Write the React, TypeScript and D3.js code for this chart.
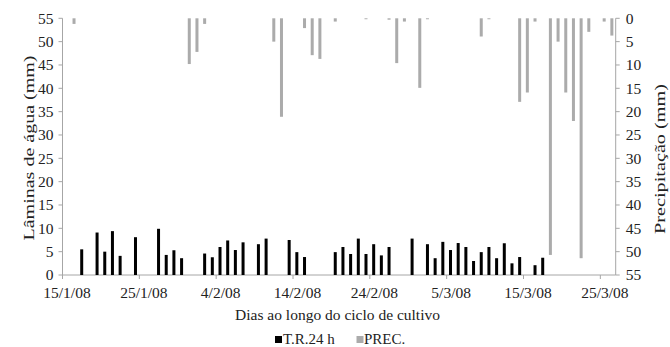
import React from "react";
import * as d3 from "d3";

const trDates = ["2008-01-17","2008-01-19","2008-01-20","2008-01-21","2008-01-22","2008-01-24","2008-01-27","2008-01-28","2008-01-29","2008-01-30","2008-02-02","2008-02-03","2008-02-04","2008-02-05","2008-02-06","2008-02-07","2008-02-09","2008-02-10","2008-02-13","2008-02-14","2008-02-15","2008-02-19","2008-02-20","2008-02-21","2008-02-22","2008-02-23","2008-02-24","2008-02-25","2008-02-26","2008-02-29","2008-03-02","2008-03-03","2008-03-04","2008-03-05","2008-03-06","2008-03-07","2008-03-08","2008-03-09","2008-03-10","2008-03-11","2008-03-12","2008-03-13","2008-03-14","2008-03-16","2008-03-17"];
const trValues = [5.5,9.1,5.0,9.4,4.1,8.1,9.9,4.3,5.3,3.6,4.6,3.8,6.0,7.4,5.35,7.0,6.6,7.8,7.5,4.9,3.85,4.9,6.0,4.5,7.8,4.5,6.6,4.2,6.0,7.8,6.6,3.6,7.1,5.35,6.85,6.0,3.0,4.9,6.0,3.6,6.8,2.5,3.85,2.1,3.7];

const precDates = ["2008-01-16","2008-01-31","2008-02-01","2008-02-02","2008-02-11","2008-02-12","2008-02-15","2008-02-16","2008-02-17","2008-02-19","2008-02-23","2008-02-26","2008-02-27","2008-02-28","2008-03-01","2008-03-02","2008-03-09","2008-03-10","2008-03-14","2008-03-15","2008-03-16","2008-03-18","2008-03-19","2008-03-20","2008-03-21","2008-03-22","2008-03-23","2008-03-25","2008-03-26"];
const precValues = [1.2,9.8,7.2,1.2,5.0,21.1,2.1,7.9,8.7,0.7,0.2,0.3,9.6,0.7,14.9,0.2,3.9,0.2,17.9,15.9,0.7,50.7,5.0,15.9,22.0,51.4,2.9,0.7,3.7];

const xTickDates = ["2008-01-15","2008-01-25","2008-02-04","2008-02-14","2008-02-24","2008-03-05","2008-03-15","2008-03-25"];
const yTicks = [0,5,10,15,20,25,30,35,40,45,50,55];

const xTitle = "Dias ao longo do ciclo de cultivo";
const yLeftTitle = "Lâminas de água (mm)";
const yRightTitle = "Precipitação (mm)";
const legendLabels = ["T.R.24 h", "PREC."];

const W = 670, H = 347;
const M = { left: 62.5, right: 615.7, top: 18.3, bottom: 275 };
const FONT = "Liberation Serif, DejaVu Serif, serif";
const AXIS = "#a6a6a6";
const GRAY = "#ababab";

const parse = (s: string) => d3.utcParse("%Y-%m-%d")(s) as Date;

export default function App() {
  const x = d3.scaleUtc()
    .domain([parse("2008-01-15"), parse("2008-03-27")])
    .range([M.left, M.right]);
  const yL = d3.scaleLinear().domain([0, 55]).range([M.bottom, M.top]);
  const yR = d3.scaleLinear().domain([0, 55]).range([M.top, M.bottom]);
  const fmt = d3.utcFormat("%-d/%-m/%y");
  const bw = 3;
  const center = (s: string) => x(d3.utcHour.offset(parse(s), 12));
  const ts = { fontFamily: FONT, fontSize: 15.5, fill: "#222" } as React.CSSProperties;

  return (
    <svg width={W} height={H} style={{ position: "absolute", left: 0, top: 0, background: "#fff" }}>
      {/* axes */}
      <line x1={M.left} x2={M.left} y1={M.top} y2={M.bottom} stroke={AXIS} />
      <line x1={M.right} x2={M.right} y1={M.top} y2={M.bottom} stroke={AXIS} />
      <line x1={M.left} x2={M.right} y1={M.bottom} y2={M.bottom} stroke={AXIS} />
      {yTicks.map(t => (
        <g key={"l" + t}>
          <line x1={M.left - 4} x2={M.left} y1={yL(t)} y2={yL(t)} stroke={AXIS} />
          <text x={M.left - 9} y={yL(t)} dy="0.35em" textAnchor="end" style={ts}>{t}</text>
        </g>
      ))}
      {yTicks.map(t => (
        <g key={"r" + t}>
          <line x1={M.right} x2={M.right + 4} y1={yR(t)} y2={yR(t)} stroke={AXIS} />
          <text x={M.right + 10} y={yR(t)} dy="0.35em" textAnchor="start" style={ts}>{t}</text>
        </g>
      ))}
      {xTickDates.map(s => (
        <g key={s}>
          <line x1={x(parse(s))} x2={x(parse(s))} y1={M.bottom} y2={M.bottom + 4} stroke={AXIS} />
          <text x={x(parse(s)) + 4.5} y={M.bottom + 23} textAnchor="middle" style={ts}>{fmt(parse(s))}</text>
        </g>
      ))}
      {/* bars */}
      {precDates.map((s, i) => (
        <rect key={"p" + s} x={center(s) - bw / 2} y={yR(0)} width={bw} height={yR(precValues[i]) - yR(0)} fill={GRAY} />
      ))}
      {trDates.map((s, i) => (
        <rect key={"t" + s} x={center(s) - bw / 2} y={yL(trValues[i])} width={bw} height={yL(0) - yL(trValues[i])} fill="#000" />
      ))}
      {/* titles */}
      <text x={337.5} y={320} textAnchor="middle" style={ts}>{xTitle}</text>
      <text transform={`translate(34,${148}) rotate(-90)`} textAnchor="middle" textLength={185} lengthAdjust="spacingAndGlyphs" style={ts}>{yLeftTitle}</text>
      <text transform={`translate(665,${159}) rotate(-90)`} textAnchor="middle" textLength={150} lengthAdjust="spacingAndGlyphs" style={ts}>{yRightTitle}</text>
      {/* legend */}
      <rect x={275} y={336} width={7} height={7} fill="#000" />
      <text x={283} y={344} style={{ ...ts, fontSize: 15 }}>{legendLabels[0]}</text>
      <rect x={356.5} y={336} width={7} height={7} fill={GRAY} />
      <text x={364} y={344} style={{ ...ts, fontSize: 15 }}>{legendLabels[1]}</text>
    </svg>
  );
}
